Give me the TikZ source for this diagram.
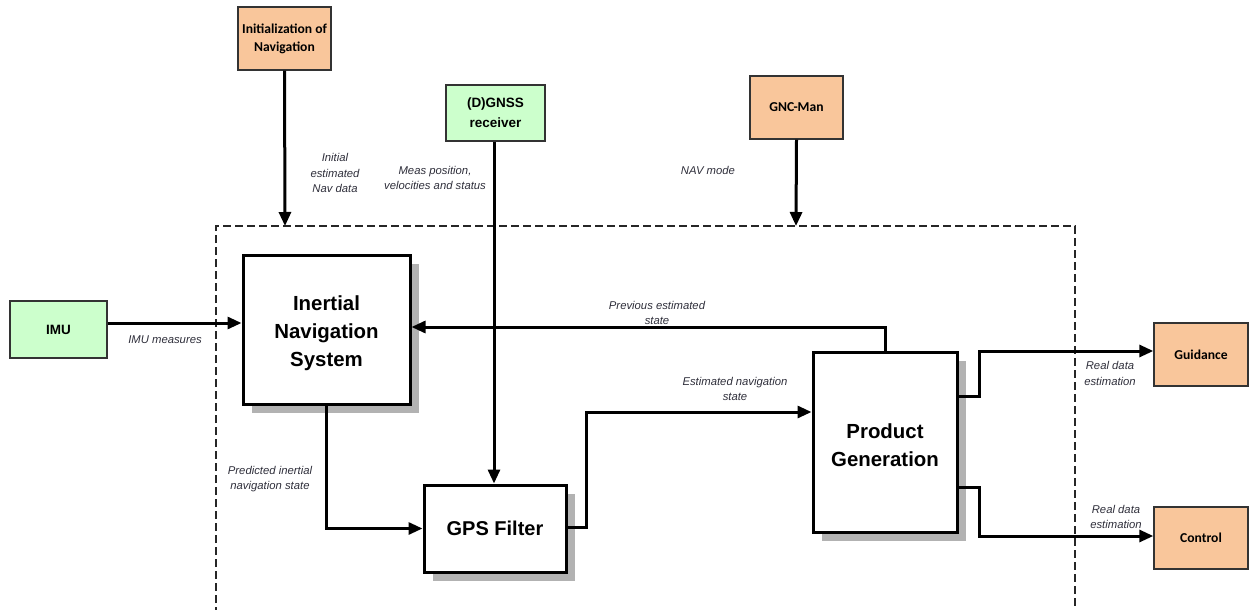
\documentclass[tikz,border=0pt]{standalone}
\usepackage{fontspec}
\setmainfont{Liberation Sans}
\newfontfamily\calib{Carlito}
\usetikzlibrary{arrows.meta,shadows,calc}
\definecolor{peach}{HTML}{F9C69B}
\definecolor{mint}{HTML}{CCFFCC}
\definecolor{lbl}{HTML}{2E2E3A}
\tikzset{
  ext/.style={draw=black!80, line width=1.4pt, align=center, inner sep=0pt},
  extor/.style={ext, fill=peach, font=\calib\bfseries\fontsize{13.6}{18}\selectfont},
  extgr/.style={ext, fill=mint, font=\bfseries\fontsize{13.5}{20}\selectfont},
  mainbox/.style={draw=black, line width=3pt, fill=white, align=center, inner sep=0pt,
    font=\bfseries\fontsize{20.4}{28}\selectfont,
    drop shadow={fill=black!30, opacity=1, shadow xshift=9pt, shadow yshift=-9pt}},
  maintext/.style={align=center, inner sep=0pt, font=\bfseries\fontsize{20.4}{28}\selectfont},
  flow/.style={line width=3pt, -{Triangle[length=14pt,width=12pt]}},
  lab/.style={font=\itshape\fontsize{11.3}{15.5}\selectfont, text=lbl, align=center, inner sep=0pt},
  frame/.style={dashed, line width=1.2pt, dash pattern=on 8pt off 4pt, draw=black!85}
}
\begin{document}
\begin{tikzpicture}[x=1pt,y=-1pt]
\useasboundingbox (0,0) rectangle (1253,610);
% dashed frame
\coordinate (fbl) at (216,615);
\coordinate (ftl) at (216,226);
\coordinate (ftr) at (1075,226);
\coordinate (fbr) at (1075,615);
\draw[frame] (fbl) -- (ftl) -- (ftr) -- (fbr);
% external boxes
\node[extor, minimum width=93pt, minimum height=63pt] (init) at (284.5,38.5) {Initialization of\\Navigation};
\node[extgr, minimum width=99pt, minimum height=56pt] (gnss) at (495.5,113) {(D)GNSS\\receiver};
\node[extor, minimum width=93pt, minimum height=63pt] (gnc) at (796.5,107.5) {GNC-Man};
\node[extgr, minimum width=97pt, minimum height=57pt] (imu) at (58.5,329.5) {IMU};
\node[extor, minimum width=94pt, minimum height=63pt] (guid) at (1201,354.5) {Guidance};
\node[extor, minimum width=94pt, minimum height=62pt] (ctrl) at (1201,538) {Control};
% main boxes
\node[mainbox, minimum width=167pt, minimum height=149pt] (ins) at (326.5,329.5) {};
\node[maintext] (inst) at ([yshift=-3.5pt]ins.center) {Inertial\\Navigation\\System};
\node[mainbox, minimum width=142pt, minimum height=87pt, font=\bfseries\fontsize{20}{24}\selectfont] (gps) at (495,528.5) {GPS Filter};
\node[mainbox, minimum width=144pt, minimum height=180pt] (pg) at (885,442) {};
\node[maintext] (pgt) at ([yshift=-3pt]pg.center) {Product\\Generation};
% entry points on the frame
\coordinate (initin) at (285,226);
\coordinate (gncin) at (796,226);
% connectors
\draw[flow] (init.south) -- (initin);
\draw[flow] (gnc.south) -- (gncin);
\draw[flow] ([xshift=-1.5pt]gnss.south) -- ([xshift=-1pt]gps.north);
\draw[flow] ([yshift=6.5pt]imu.east) -- ([yshift=6.5pt]imu.east -| ins.west);
\draw[flow] (ins.south) |- (gps.west);
\draw[flow] ([yshift=1.5pt]gps.east) -- ++(19,0) |- ([yshift=30pt]pg.west);
\draw[flow] (pg.north) |- ([yshift=2.5pt]ins.east);
\draw[flow] ([yshift=46pt]pg.east) -- ++(21,0) |- ([yshift=3.5pt]guid.west);
\draw[flow] ([yshift=-45pt]pg.east) -- ++(21,0) |- ([yshift=2pt]ctrl.west);
% labels
\node[lab] (l1) at (335,173) {Initial\\estimated\\Nav data};
\node[lab] (l2) at (435,178) {Meas position,\\velocities and status};
\node[lab] (l3) at (708,170) {NAV mode};
\node[lab] (l4) at (165,340) {IMU measures};
\node[lab] (l5) at (657,313) {Previous estimated\\state};
\node[lab] (l6) at (735,389) {Estimated navigation\\state};
\node[lab] (l7) at (270,479) {Predicted inertial\\navigation state};
\node[lab] (l8) at (1110,373.5) {Real data\\estimation};
\node[lab] (l9) at (1116,517) {Real data\\estimation};
\end{tikzpicture}
\end{document}
